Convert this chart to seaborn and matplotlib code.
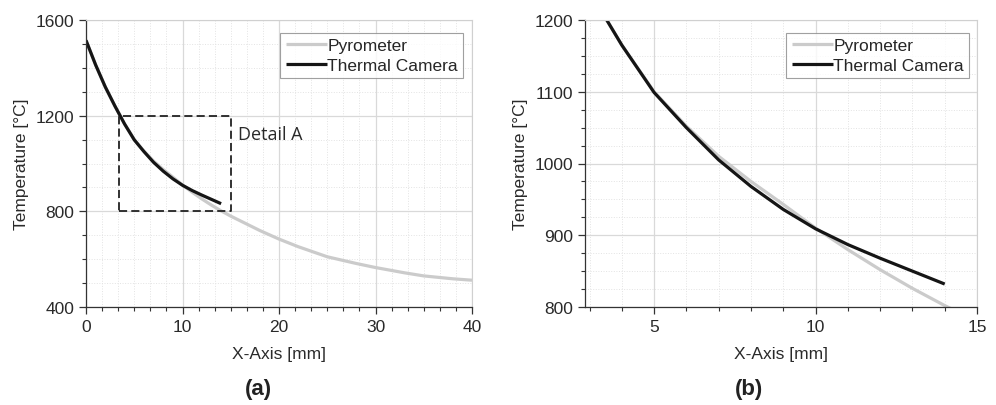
import numpy as np
import pandas as pd
import matplotlib
matplotlib.use("Agg")
import matplotlib.pyplot as plt
from matplotlib.ticker import MultipleLocator, AutoMinorLocator
import seaborn as sns

# readings
pyro_x = [0, 1, 2, 3, 4, 5, 6, 7, 8, 9, 10, 11, 12, 13, 14,
          15, 16, 17, 18, 20, 22, 25, 28, 30, 33, 35, 38, 40]
pyro_t = [1515, 1412, 1320, 1240, 1165, 1100, 1052, 1010, 975, 943, 910, 880, 852, 826, 802,
          780, 760, 740, 720, 684, 652, 610, 582, 565, 543, 530, 518, 512]
cam_x = [0, 1, 2, 3, 4, 5, 6, 7, 8, 9, 10, 11, 12, 13, 14]
cam_t = [1515, 1412, 1320, 1240, 1165, 1099, 1050, 1005, 968, 936, 909, 887, 868, 850, 832]

detail_box = (3.45, 15, 800, 1200)

df = pd.concat([
    pd.DataFrame({"x": pyro_x, "T": pyro_t, "src": "Pyrometer"}),
    pd.DataFrame({"x": cam_x, "T": cam_t, "src": "Thermal Camera"}),
])

sns.set_theme(style="white")
plt.rcParams["font.family"] = ["Liberation Sans", "DejaVu Sans"]

pal = {"Pyrometer": "#cbcbcb", "Thermal Camera": "#151515"}
fs = 12.5

fig = plt.figure(figsize=(9.96, 4.06), dpi=100)
ax1 = fig.add_axes([86/996, 98/406, 386/996, 287/406])
ax2 = fig.add_axes([585/996, 98/406, 392/996, 287/406])


def style_ax(ax, xlim, ylim, xmaj, xmin_n, ymaj, ymin_n, leg_anchor):
    ax.set_xlim(*xlim)
    ax.set_ylim(*ylim)
    ax.xaxis.set_major_locator(MultipleLocator(xmaj))
    ax.xaxis.set_minor_locator(AutoMinorLocator(xmin_n))
    ax.yaxis.set_major_locator(MultipleLocator(ymaj))
    ax.yaxis.set_minor_locator(AutoMinorLocator(ymin_n))
    ax.grid(which="major", color="#d9d9d9", lw=0.9)
    ax.grid(which="minor", color="#e3e3e3", lw=0.7, ls=":")
    ax.set_axisbelow(True)
    for s in ["top", "right"]:
        ax.spines[s].set_color("#d0d0d0")
        ax.spines[s].set_linewidth(0.8)
    for s in ["left", "bottom"]:
        ax.spines[s].set_color("#333333")
        ax.spines[s].set_linewidth(0.9)
    ax.tick_params(which="major", direction="out", length=5, width=0.9,
                   color="#333333", labelsize=fs, labelcolor="#2a2a2a",
                   bottom=True, left=True)
    ax.tick_params(which="minor", direction="out", length=3, width=0.8,
                   color="#333333", bottom=True, left=True)
    ax.set_xlabel("X-Axis [mm]", fontsize=fs, color="#2a2a2a", labelpad=9)
    ax.set_ylabel("Temperature [°C]", fontsize=fs, color="#2a2a2a", labelpad=5)
    leg = ax.legend(loc="upper right", bbox_to_anchor=leg_anchor, fontsize=fs,
                    frameon=True, fancybox=False, edgecolor="#888888",
                    borderpad=0.3, handlelength=2.4, handletextpad=0.0,
                    labelspacing=0.25, borderaxespad=0)
    leg.get_frame().set_linewidth(0.8)


for ax in [ax1, ax2]:
    sns.lineplot(data=df, x="x", y="T", hue="src", palette=pal, ax=ax,
                 linewidth=2.3, sort=False, solid_joinstyle="round",
                 solid_capstyle="butt")

style_ax(ax1, (0, 40), (400, 1600), 10, 6, 400, 4, (0.977, 0.955))
style_ax(ax2, (2.86, 15), (800, 1200), 5, 5, 100, 4, (0.98, 0.955))

# dashed box marking the zoomed region
bx0, bx1, by0, by1 = detail_box
ax1.plot([bx0, bx1, bx1, bx0, bx0], [by0, by0, by1, by1, by0],
         color="#222222", ls=(0, (4.5, 2.3)), lw=1.3)
ax1.text(15.75, 1123, "Detail A", family=["Open Sans", "DejaVu Sans"],
         fontsize=13, color="#2a2a2a", va="center")

fig.text(258/996, 1 - 390/406, "(a)", fontsize=16, fontweight="bold",
         ha="center", va="center", color="#222222")
fig.text(749/996, 1 - 390/406, "(b)", fontsize=16, fontweight="bold",
         ha="center", va="center", color="#222222")

fig.savefig("out.png", dpi=100)
